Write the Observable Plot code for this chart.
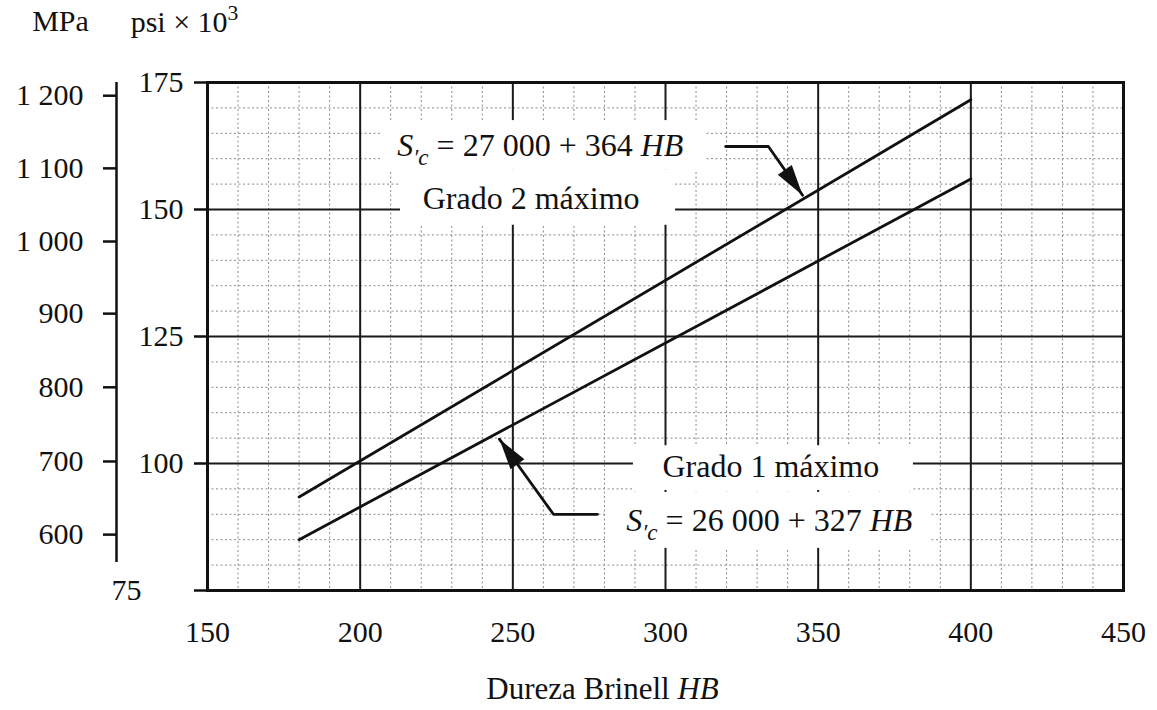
<!DOCTYPE html>
<html><head><meta charset="utf-8">
<script src="https://cdn.jsdelivr.net/npm/d3@7"></script>
<script src="https://cdn.jsdelivr.net/npm/@observablehq/plot@0.6"></script>
<style>
body{margin:0;background:#fff;}
#chart svg{font-family:"Liberation Serif", "DejaVu Serif", serif;}
</style></head><body><div id="chart"></div>
<script>
// ---- data ----
const hbTicks = [150, 200, 250, 300, 350, 400, 450];
const hbMajor = [200, 250, 300, 350, 400];
const psiTicks = [75, 100, 125, 150, 175];
const psiMajor = [100, 125, 150];
const mpaLabels = ["600", "700", "800", "900", "1 000", "1 100", "1 200"];
const mpaAtPsi = [86.0, 100.4, 115.0, 129.5, 143.7, 158.1, 172.4];
const lineHB = [180, 400];
const grade2Psi = [93.4, 171.6];   // S'c = 27 000 + 364 HB
const grade1Psi = [85.0, 156.0];   // S'c = 26 000 + 327 HB
const noteText = ["S′c = 27 000 + 364 HB", "Grado 2 máximo", "Grado 1 máximo", "S′c = 26 000 + 327 HB"];
const noteHB = [259, 256, 334.5, 334];
const notePsi = [162.6, 152.2, 99.4, 88.8];
const boxHB1 = [206.7, 213.2, 289.5, 280.4];
const boxHB2 = [313.1, 303.3, 381.2, 386.8];
const boxPsi1 = [157.7, 146.9, 94.7, 83.3];
const boxPsi2 = [167.5, 157.7, 103.5, 94.3];
const leader1HB = [319.7, 333.7, 344.9];
const leader1Psi = [162.4, 162.4, 152.8];
const leader2HB = [277.7, 263.3, 245.6];
const leader2Psi = [90.0, 90.0, 104.8];

// ---- tables ----
const W = 1157, H = 710, ML = 207, MR = 34, MT = 82, MB = 120;
const lines = [
  ...lineHB.map((hb, i) => ({hb, psi: grade2Psi[i], s: "g2"})),
  ...lineHB.map((hb, i) => ({hb, psi: grade1Psi[i], s: "g1"}))
];
const notes = noteText.map((t, i) => ({t, hb: noteHB[i], psi: notePsi[i]}));
const boxes = boxHB1.map((x1, i) => ({x1, x2: boxHB2[i], y1: boxPsi1[i], y2: boxPsi2[i]}));
const leaders = [
  ...leader1HB.map((hb, i) => ({hb, psi: leader1Psi[i], id: 1})),
  ...leader2HB.map((hb, i) => ({hb, psi: leader2Psi[i], id: 2}))
];
const mpaRows = mpaLabels.map((label, i) => ({label, psi: mpaAtPsi[i]}));
const minorX = d3.range(160, 450, 10).filter(v => v % 50 !== 0);
const minorY = d3.range(80, 175, 5).filter(v => v % 25 !== 0);

// same mapping Plot uses (for tick lengths and arrow angles)
const sx = d3.scaleLinear([150, 450], [ML, W - MR]);
const sy = d3.scaleLinear([75, 175], [H - MB, MT]);
const psiTickX1 = sx.invert(ML - 13);
const mpaAxisX = sx.invert(ML - 91);
const mpaTickX1 = sx.invert(ML - 91 - 13);

function headSymbol(hbs, psis) {
  const n = hbs.length;
  const dx = sx(hbs[n - 1]) - sx(hbs[n - 2]);
  const dy = sy(psis[n - 1]) - sy(psis[n - 2]);
  const len = Math.hypot(dx, dy), ux = dx / len, uy = dy / len;
  const vx = -uy, vy = ux;
  const hl = 31, hw = 8.5;
  return {
    draw(ctx) {
      ctx.moveTo(0, 0);
      ctx.lineTo(-ux * hl + vx * hw, -uy * hl + vy * hw);
      ctx.lineTo(-ux * hl - vx * hw, -uy * hl - vy * hw);
      ctx.closePath();
    }
  };
}
const head1 = headSymbol(leader1HB, leader1Psi);
const head2 = headSymbol(leader2HB, leader2Psi);

const richParts = {
  "S′c = 27 000 + 364 HB": [{t: "S", i: 1}, {t: "′c", i: 1, sub: 1}, {t: " = 27 000 + 364 "}, {t: "HB", i: 1}],
  "S′c = 26 000 + 327 HB": [{t: "S", i: 1}, {t: "′c", i: 1, sub: 1}, {t: " = 26 000 + 327 "}, {t: "HB", i: 1}],
  "Dureza Brinell HB": [{t: "Dureza Brinell "}, {t: "HB", i: 1}],
  "psi × 103": [{t: "psi × 10"}, {t: "3", sup: 1}]
};

const FS = 30;
const plot = Plot.plot({
  width: W, height: H,
  marginLeft: ML, marginRight: MR, marginTop: MT, marginBottom: MB,
  x: {domain: [150, 450], ticks: hbTicks, tickSize: 0, tickPadding: 30, label: null},
  y: {domain: [75, 175], ticks: psiTicks, tickSize: 0, tickPadding: 24, label: null,
      tickFormat: d => d === 75 ? "" : String(d)},
  style: {fontFamily: "Liberation Serif, serif", fontSize: FS + "px", background: "white", color: "#111"},
  marks: [
    Plot.ruleX(minorX, {stroke: "#8a8a8a", strokeWidth: 1, strokeDasharray: "2,2.5"}),
    Plot.ruleY(minorY, {stroke: "#8a8a8a", strokeWidth: 1, strokeDasharray: "2,2.5"}),
    Plot.ruleX(hbMajor, {stroke: "#1a1a1a", strokeWidth: 2}),
    Plot.ruleY(psiMajor, {stroke: "#1a1a1a", strokeWidth: 2}),
    Plot.rect(boxes, {x1: "x1", x2: "x2", y1: "y1", y2: "y2", fill: "white"}),
    Plot.line(lines, {x: "hb", y: "psi", z: "s", stroke: "#111", strokeWidth: 2.8}),
    Plot.line(leaders, {x: "hb", y: "psi", z: "id", stroke: "#111", strokeWidth: 2.8}),
    Plot.dot([leader1HB.length - 1], {x: i => leader1HB[i], y: i => leader1Psi[i], symbol: head1, r: 10, fill: "#111", stroke: "none"}),
    Plot.dot([leader2HB.length - 1], {x: i => leader2HB[i], y: i => leader2Psi[i], symbol: head2, r: 10, fill: "#111", stroke: "none"}),
    Plot.text(notes, {x: "hb", y: "psi", text: "t", fontSize: 32, fill: "#111"}),
    Plot.frame({stroke: "#111", strokeWidth: 3}),
    // psi ticks (left of frame)
    Plot.ruleY(psiTicks, {x1: psiTickX1, x2: 150, stroke: "#111", strokeWidth: 2.5}),
    Plot.text([75], {y: d => d, frameAnchor: "left", textAnchor: "end", dx: -66, dy: 0, fontSize: FS, fill: "#111"}),
    // MPa axis
    Plot.ruleX([mpaAxisX], {y1: 80.5, y2: 175, stroke: "#111", strokeWidth: 2.5}),
    Plot.ruleY(mpaAtPsi, {x1: mpaTickX1, x2: mpaAxisX, stroke: "#111", strokeWidth: 2.5}),
    Plot.text(mpaRows, {y: "psi", text: "label", frameAnchor: "left", textAnchor: "end", dx: -124, fontSize: FS, fill: "#111"}),
    // x axis title
    Plot.text(["Dureza Brinell HB"], {text: d => d, frameAnchor: "bottom", textAnchor: "middle", lineAnchor: "middle", dx: -63, dy: 99, fontSize: 31, fill: "#111"}),
    // units
    Plot.text(["MPa"], {text: d => d, frameAnchor: "top-left", textAnchor: "middle", lineAnchor: "middle", dx: -147, dy: -61, fontSize: FS, fill: "#111"}),
    Plot.text(["psi × 103"], {text: d => d, frameAnchor: "top-left", textAnchor: "middle", lineAnchor: "middle", dx: -23, dy: -60, fontSize: FS, fill: "#111"})
  ]
});

d3.select(plot).selectAll("text").each(function () {
  const parts = richParts[this.textContent];
  if (!parts) return;
  const fs = parseFloat(d3.select(this.parentNode).attr("font-size")) || FS;
  const t = d3.select(this);
  t.text(null);
  let shift = 0;
  parts.forEach(p => {
    const ts = t.append("tspan").text(p.t);
    if (p.i) ts.attr("font-style", "italic");
    let target = 0;
    if (p.sub) { ts.attr("font-size", fs * 0.72); target = fs * 0.28; }
    if (p.sup) { ts.attr("font-size", fs * 0.72); target = -fs * 0.42; }
    if (target !== shift) { ts.attr("dy", target - shift); shift = target; }
  });
});
d3.select(plot).selectAll("text").attr("fill", "#111");
document.getElementById("chart").appendChild(plot);
</script></body></html>
